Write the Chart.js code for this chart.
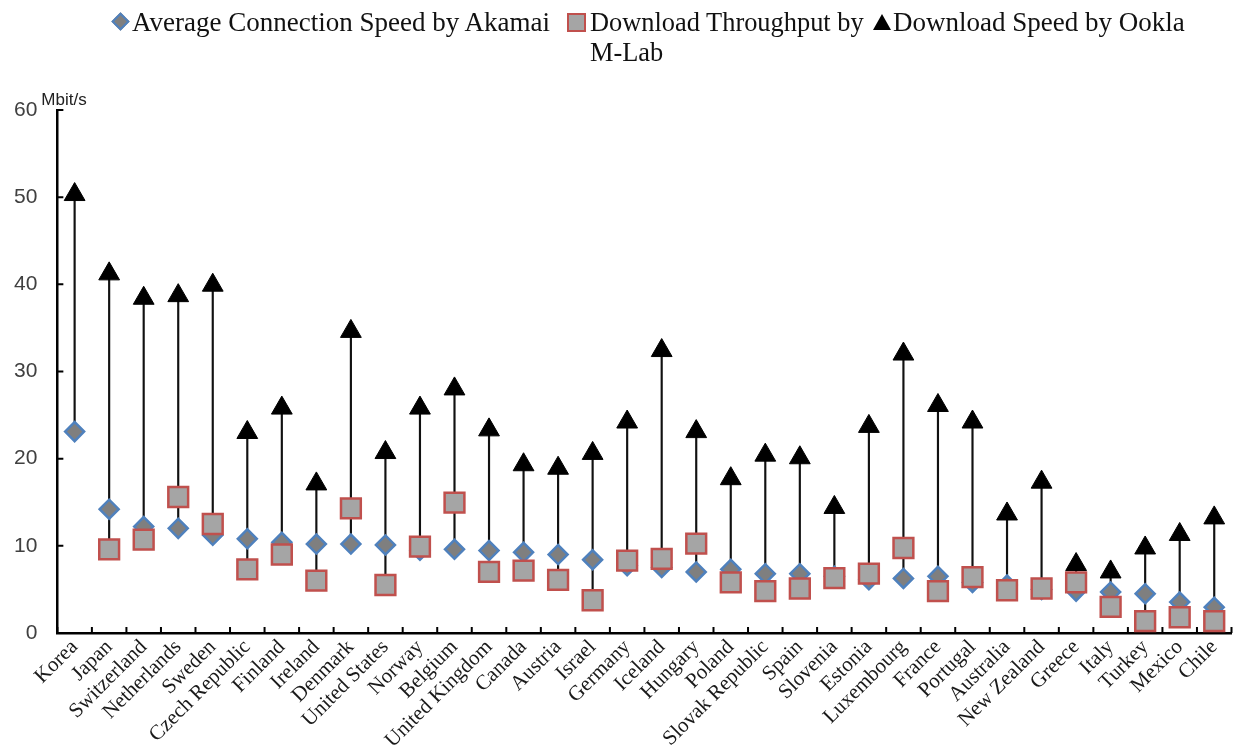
<!DOCTYPE html>
<html>
<head>
<meta charset="utf-8">
<script src="https://cdn.jsdelivr.net/npm/chart.js@4.4.1/dist/chart.umd.min.js"></script>
<style>
  html, body { margin: 0; padding: 0; background: #fff; }
  #wrap { position: relative; width: 1248px; height: 753px; }
  #chart { position: absolute; left: 0; top: 0; }
  .lg { position: absolute; font-family: 'Liberation Serif', 'Times New Roman', serif; font-size: 27px; line-height: 30px; color: #111; white-space: nowrap; }
  .lg.wrap { white-space: normal; width: 285px; font-size: 26.4px; }
  .mk { position: absolute; box-sizing: border-box; }
  .diamond { width: 13px; height: 13px; background: #7f7f7f; border: 2px solid #4f81bd; transform: rotate(45deg); }
  .square { width: 19px; height: 19px; background: #a5a5a5; border: 2.5px solid #c0504d; }
  .triangle { width: 0; height: 0; border-left: 9px solid transparent; border-right: 9px solid transparent; border-bottom: 16px solid #000; }
</style>
</head>
<body>
<div id="wrap">
  <canvas id="chart" width="1248" height="753"></canvas>
  <span class="mk diamond" style="left:114px; top:15px;"></span>
  <span class="lg" style="left:132px; top:7px;">Average Connection Speed by Akamai</span>
  <span class="mk square" style="left:567px; top:13px;"></span>
  <span class="lg wrap" style="left:590px; top:7px;">Download Throughput by M-Lab</span>
  <span class="mk triangle" style="left:873px; top:14px;"></span>
  <span class="lg" style="left:893px; top:7px;">Download Speed by Ookla</span>
</div>
<script>
// categories and values (Mbit/s)
const countries = ['Korea', 'Japan', 'Switzerland', 'Netherlands', 'Sweden', 'Czech Republic', 'Finland', 'Ireland',
    'Denmark', 'United States', 'Norway', 'Belgium', 'United Kingdom', 'Canada', 'Austria', 'Israel', 'Germany',
    'Iceland', 'Hungary', 'Poland', 'Slovak Republic', 'Spain', 'Slovenia', 'Estonia', 'Luxembourg', 'France',
    'Portugal', 'Australia', 'New Zealand', 'Greece', 'Italy', 'Turkey', 'Mexico', 'Chile'];

const akamai = [23.1, 14.2, 12.2, 12.0, 11.2, 10.8, 10.4, 10.2, 10.2, 10.1, 9.5, 9.6, 9.45, 9.25, 9.0, 8.4, 7.7,
    7.5, 7.0, 7.3, 6.8, 6.8, 6.5, 6.1, 6.25, 6.5, 5.8, 5.5, 5.0, 4.8, 4.7, 4.5, 3.55, 2.95];

const mlab = [null, 9.6, 10.7, 15.6, 12.5, 7.3, 9.0, 6.0, 14.3, 5.5, 9.9, 14.95, 7.0, 7.15, 6.1, 3.75, 8.3,
    8.5, 10.25, 5.8, 4.8, 5.1, 6.3, 6.8, 9.75, 4.8, 6.4, 4.9, 5.1, 5.8, 3.0, 1.35, 1.8, 1.35];

const ookla = [50.3, 41.2, 38.4, 38.7, 39.9, 23.0, 25.8, 17.1, 34.6, 20.7, 25.8, 28.0, 23.3, 19.3, 18.9, 20.6, 24.2,
    32.4, 23.1, 17.7, 20.4, 20.1, 14.4, 23.7, 32.0, 26.1, 24.2, 13.65, 17.3, 7.85, 7.0, 9.75, 11.3, 13.2];

const yTicks = [0, 10, 20, 30, 40, 50, 60];

// high-low range per country, drawn as a thin floating bar
const ranges = countries.map((_, i) => {
    const vals = [akamai[i], mlab[i], ookla[i]].filter(v => v !== null);
    return [Math.min(...vals), Math.max(...vals)];
});

// short ticks pointing into the plot, plus the unit label
const axisExtras = {
    id: 'axisExtras',
    afterDraw(chart) {
        const ctx = chart.ctx;
        const x = chart.scales.x;
        const y = chart.scales.y;
        const area = chart.chartArea;
        ctx.save();
        ctx.strokeStyle = '#000';
        ctx.lineWidth = 2;
        ctx.beginPath();
        for (let i = 0; i <= countries.length; i++) {
            let px;
            if (i === 0) px = area.left;
            else if (i === countries.length) px = area.right;
            else px = (x.getPixelForValue(i - 1) + x.getPixelForValue(i)) / 2;
            ctx.moveTo(px, area.bottom);
            ctx.lineTo(px, area.bottom - 6);
        }
        yTicks.forEach(v => {
            const py = y.getPixelForValue(v);
            ctx.moveTo(area.left, py);
            ctx.lineTo(area.left + 6, py);
        });
        ctx.stroke();

        ctx.fillStyle = '#222';
        ctx.font = '17px "Liberation Sans", Arial, sans-serif';
        ctx.textAlign = 'left';
        ctx.textBaseline = 'alphabetic';
        ctx.fillText('Mbit/s', area.left - 16, area.top - 5);
        ctx.restore();
    }
};

new Chart(document.getElementById('chart'), {
    type: 'bar',
    data: {
        labels: countries,
        datasets: [
            {
                type: 'line',
                label: 'Download Speed by Ookla',
                data: ookla,
                showLine: false,
                pointStyle: 'triangle',
                pointRadius: 12,
                backgroundColor: '#000',
                borderColor: '#000',
                borderWidth: 1,
                order: 1
            },
            {
                type: 'line',
                label: 'Download Throughput by M-Lab',
                data: mlab,
                showLine: false,
                pointStyle: 'rect',
                pointRadius: 14,
                backgroundColor: '#a5a5a5',
                borderColor: '#c0504d',
                borderWidth: 2.5,
                order: 2
            },
            {
                type: 'line',
                label: 'Average Connection Speed by Akamai',
                data: akamai,
                showLine: false,
                pointStyle: 'rectRot',
                pointRadius: 9.5,
                backgroundColor: '#7f7f7f',
                borderColor: '#4f81bd',
                borderWidth: 2.5,
                order: 3
            },
            {
                type: 'bar',
                label: 'range',
                data: ranges,
                backgroundColor: '#111',
                barThickness: 1.5,
                order: 10
            }
        ]
    },
    options: {
        responsive: false,
        animation: false,
        layout: { padding: { top: 110, left: -6, right: 6, bottom: -2 } },
        plugins: {
            legend: { display: false },
            tooltip: { enabled: false }
        },
        scales: {
            x: {
                offset: true,
                grid: { display: false, drawTicks: false },
                border: { display: true, color: '#000', width: 2.5 },
                ticks: {
                    autoSkip: false,
                    maxRotation: 45,
                    minRotation: 45,
                    padding: 2,
                    color: '#1a1a1a',
                    font: { family: "'Liberation Serif', 'Times New Roman', serif", size: 21 }
                }
            },
            y: {
                min: 0,
                max: 60,
                grid: { display: false, drawTicks: false },
                border: { display: true, color: '#000', width: 2.5 },
                ticks: {
                    stepSize: 10,
                    padding: 20,
                    color: '#404040',
                    font: { family: "'Liberation Sans', Arial, sans-serif", size: 21 }
                }
            }
        }
    },
    plugins: [axisExtras]
});
</script>
</body>
</html>
